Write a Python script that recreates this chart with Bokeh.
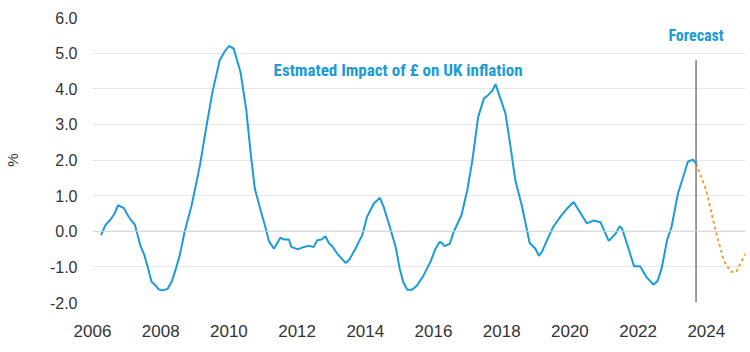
from bokeh.plotting import figure
from bokeh.models import Range1d, FixedTicker, Span
from bokeh.core.properties import value
from bokeh.embed import file_html
from bokeh.resources import INLINE

# ---- data ----
hist_year = [2006.25, 2006.38, 2006.53, 2006.65, 2006.75, 2006.92, 2007.02, 2007.13, 2007.24, 2007.41,
             2007.52, 2007.62, 2007.73, 2007.83, 2007.94, 2008.04, 2008.20, 2008.32, 2008.43, 2008.56,
             2008.70, 2008.90, 2009.02, 2009.15, 2009.33, 2009.51, 2009.73, 2009.88, 2010.00, 2010.14,
             2010.34, 2010.51, 2010.65, 2010.76, 2010.93, 2011.07, 2011.17, 2011.32, 2011.51, 2011.61,
             2011.76, 2011.83, 2012.02, 2012.20, 2012.34, 2012.49, 2012.59, 2012.72, 2012.83, 2012.93,
             2013.03, 2013.18, 2013.42, 2013.53, 2013.71, 2013.91, 2014.05, 2014.25, 2014.43, 2014.54,
             2014.72, 2014.89, 2015.01, 2015.11, 2015.23, 2015.37, 2015.52, 2015.71, 2015.91, 2016.06,
             2016.18, 2016.25, 2016.32, 2016.48, 2016.59, 2016.82, 2016.99, 2017.14, 2017.31, 2017.48,
             2017.60, 2017.72, 2017.82, 2017.96, 2018.11, 2018.26, 2018.40, 2018.60, 2018.82, 2018.99,
             2019.09, 2019.18, 2019.33, 2019.51, 2019.70, 2019.92, 2020.11, 2020.26, 2020.50, 2020.69,
             2020.90, 2021.14, 2021.34, 2021.46, 2021.53, 2021.72, 2021.88, 2022.06, 2022.24, 2022.45,
             2022.57, 2022.69, 2022.85, 2022.98, 2023.17, 2023.37, 2023.46, 2023.61, 2023.70]
hist_value = [-0.11, 0.17, 0.33, 0.50, 0.73, 0.65, 0.47, 0.31, 0.19, -0.42,
              -0.67, -1.00, -1.42, -1.50, -1.63, -1.66, -1.62, -1.42, -1.10, -0.67,
              -0.02, 0.70, 1.24, 1.85, 2.88, 3.87, 4.80, 5.05, 5.20, 5.13,
              4.47, 3.40, 2.09, 1.20, 0.59, 0.12, -0.27, -0.49, -0.18, -0.23,
              -0.23, -0.44, -0.51, -0.44, -0.41, -0.44, -0.25, -0.23, -0.14, -0.33,
              -0.42, -0.63, -0.89, -0.80, -0.49, -0.11, 0.40, 0.78, 0.94, 0.68,
              0.12, -0.44, -1.05, -1.42, -1.64, -1.64, -1.52, -1.24, -0.86, -0.49,
              -0.30, -0.33, -0.42, -0.35, -0.02, 0.45, 1.15, 1.99, 3.21, 3.73,
              3.82, 3.94, 4.13, 3.73, 3.31, 2.37, 1.43, 0.68, -0.33, -0.49,
              -0.69, -0.58, -0.25, 0.12, 0.38, 0.64, 0.82, 0.59, 0.22, 0.30,
              0.25, -0.27, -0.07, 0.14, 0.08, -0.49, -0.98, -0.98, -1.28, -1.50,
              -1.40, -1.05, -0.25, 0.12, 1.06, 1.67, 1.95, 2.01, 1.90]

forecast_year = [2023.70, 2024.00, 2024.27, 2024.51, 2024.71, 2024.88, 2025.15]
forecast_value = [1.90, 1.15, 0.03, -0.81, -1.14, -1.14, -0.63]

x_ticks = [2006, 2008, 2010, 2012, 2014, 2016, 2018, 2020, 2022, 2024]
y_ticks = [-2, -1, 0, 1, 2, 3, 4, 5, 6]
forecast_marker_top = 4.8

title_text = "Estmated Impact of \u00a3 on UK inflation"
forecast_text = "Forecast"

BLUE = "#1A9CD8"
ORANGE = "#F0A030"
FONT = "Liberation Sans"
NARROW = "Liberation Sans Narrow, Roboto Condensed, Roboto"

p = figure(width=750, height=352, output_backend="svg", toolbar_location=None,
           x_range=Range1d(2006.0, 2025.15), y_range=Range1d(-2.0, 6.0),
           min_border_left=92, min_border_right=5, min_border_top=17, min_border_bottom=50)
p.outline_line_color = None
p.background_fill_color = "white"
p.border_fill_color = "white"

p.xgrid.grid_line_color = None
p.ygrid.grid_line_color = "#E8E8E8"
p.ygrid.grid_line_width = 1
p.ygrid.ticker = FixedTicker(ticks=y_ticks)

p.add_layout(Span(location=0, dimension="width", line_color="#D4D4D4", line_width=1.2))

p.xaxis.ticker = FixedTicker(ticks=x_ticks)
p.yaxis.ticker = FixedTicker(ticks=y_ticks)
p.yaxis.major_label_overrides = {t: f"{t:.1f}" for t in y_ticks}
for ax in (p.xaxis[0], p.yaxis[0]):
    ax.axis_line_color = None
    ax.major_tick_line_color = None
    ax.minor_tick_line_color = None
    ax.major_tick_out = 0
    ax.major_tick_in = 0
    ax.major_label_text_font = FONT
    ax.major_label_text_font_size = "16px"
    ax.major_label_text_color = "#333333"
p.xaxis.major_label_text_font_size = "17px"
p.xaxis.major_label_standoff = 22
p.yaxis.major_label_standoff = 15
p.yaxis.axis_label = "%"
p.yaxis.axis_label_text_font = FONT
p.yaxis.axis_label_text_font_size = "15px"
p.yaxis.axis_label_text_font_style = "normal"
p.yaxis.axis_label_text_color = "#333333"
p.yaxis.axis_label_standoff = 26

p.line(hist_year, hist_value, line_color=BLUE, line_width=2)
p.line(forecast_year, forecast_value, line_color=ORANGE, line_width=2, line_dash="3 3")

fx = forecast_year[0]
p.segment(x0=[fx], y0=[y_ticks[0]], x1=[fx], y1=[forecast_marker_top], line_color="#7A7A7A", line_width=1.5)

p.text(x=[2011.31], y=[4.52], text=[title_text], text_color=BLUE, text_font=value(NARROW),
       text_font_size="17px", text_font_style="bold", text_baseline="middle", text_align="left")
p.text(x=[fx], y=[5.5], text=[forecast_text], text_color=BLUE, text_font=value(NARROW),
       text_font_size="16px", text_font_style="bold", text_baseline="middle", text_align="center")

open("out.html", "w").write(file_html(p, INLINE))
